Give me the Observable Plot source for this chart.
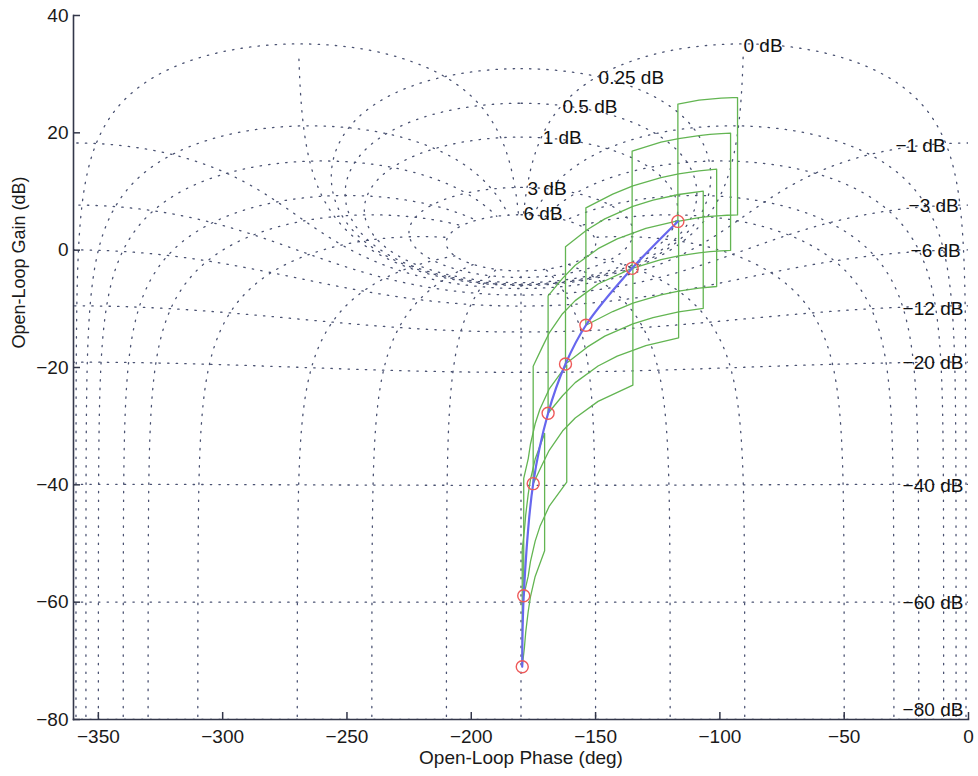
<!DOCTYPE html>
<html>
<head>
<meta charset="utf-8">
<script src="https://cdn.jsdelivr.net/npm/d3@7"></script>
<script src="https://cdn.jsdelivr.net/npm/@observablehq/plot@0.6"></script>
<style>
  html, body { margin: 0; padding: 0; background: #fff; }
  #chart svg { display: block; }
</style>
</head>
<body>
<div id="chart"></div>
<script>
// ---------- axis ticks ----------
const xTicks = [-350, -300, -250, -200, -150, -100, -50, 0];
const yTicks = [40, 20, 0, -20, -40, -60, -80];

// ---------- nominal open-loop response (phase deg, gain dB) ----------
const nomPhase = [-116.9, -135.3, -153.9, -162.1, -169.1, -175.1, -178.9, -179.5];
const nomGain  = [4.9, -3.1, -12.8, -19.4, -27.8, -39.8, -58.9, -71.0];

// ---------- plant templates: lower edge (phase, gain) of each template ----------
const templateLowerEdges = [
  [[-116.9, 4.9], [-108.4, 5.56], [-104.0, 5.76], [-99.5, 5.90], [-97.1, 5.95], [-94.8, 5.99], [-92.9, 6.01]],
  [[-135.3, -3.1], [-123.7, -1.6], [-116.6, -0.97], [-108.4, -0.46], [-104.0, -0.26], [-99.5, -0.12], [-95.7, -0.04]],
  [[-153.9, -12.8], [-143.1, -10.46], [-135.0, -9.03], [-123.7, -7.62], [-116.6, -6.99], [-108.4, -6.48], [-101.3, -6.19]],
  [[-162.1, -19.4], [-153.4, -16.53], [-146.3, -14.66], [-135.0, -12.55], [-126.9, -11.48], [-116.6, -10.51], [-106.7, -9.92]],
  [[-169.1, -27.8], [-163.3, -24.81], [-158.2, -22.58], [-149.0, -19.75], [-141.3, -18.07], [-129.8, -16.27], [-116.6, -14.95]],
  [[-175.1, -39.8], [-171.5, -36.57], [-168.7, -34.15], [-163.3, -30.83], [-158.2, -28.60], [-149.0, -25.77], [-135.0, -23.01]],
  [[-178.9, -58.9], [-177.1, -55.57], [-176.2, -53.08], [-174.3, -49.59], [-172.4, -47.12], [-168.7, -43.69], [-161.6, -39.54]],
  [[-179.5, -71.0], [-178.6, -67.61], [-178.1, -65.11], [-177.1, -61.59], [-176.2, -59.10], [-174.3, -55.61], [-170.5, -51.25]]
];
const templateGainSpanDb = 20; // gain uncertainty span of each template

// ---------- Nichols grid definition ----------
const gainLinesDb = [6, 3, 1, 0.5, 0.25, 0, -1, -3, -6, -12, -20, -40, -60, -80];
const phaseLinesDeg = [-1, -5, -10, -20, -30, -50, -90, -120, -150, -180, -210, -240, -270, -310, -330, -340, -350, -355, -359];

// ---------- grid labels ----------
const gridLabelText  = ["0 dB", "0.25 dB", "0.5 dB", "1 dB", "3 dB", "6 dB",
                        "\u22121 dB", "\u22123 dB", "\u22126 dB", "\u221212 dB", "\u221220 dB", "\u221240 dB", "\u221260 dB", "\u221280 dB"];
const gridLabelPhase = [-90.5, -148.8, -163.3, -171.3, -177.4, -179.0,
                        -29.4, -24.1, -23.3, -26.5, -26.5, -26.5, -26.5, -26.5];
const gridLabelGain  = [34.8, 29.3, 24.4, 19.1, 10.4, 6.1,
                        17.7, 7.5, -0.2, -10.05, -19.25, -40.2, -60.1, -78.4];

// ---------- build tables ----------
// open-loop G = T/(1-T) for closed-loop T = m * e^{j theta}
function nichols(m, thDeg) {
  const th = thDeg * Math.PI / 180;
  const tr = m * Math.cos(th), ti = m * Math.sin(th);
  const dr = 1 - tr, di = -ti;
  const den = dr * dr + di * di;
  const gr = (tr * dr + ti * di) / den;
  const gi = (ti * dr - tr * di) / den;
  return [Math.atan2(gi, gr) * 180 / Math.PI, 10 * Math.log10(gr * gr + gi * gi)];
}
function unwrap(pts, ref) {
  let prev = ref;
  return pts.map(([p, g]) => {
    while (p - prev > 180) p -= 360;
    while (p - prev < -180) p += 360;
    prev = p;
    return [p, g];
  });
}

const gridRows = [];
gainLinesDb.forEach((db, i) => {
  const m = Math.pow(10, db / 20);
  const start = db === 0 ? -1.3 : 0;
  const end = db === 0 ? -358.7 : -360;
  const ref = db > 0 ? -180 : (db === 0 ? -90 : 0);
  const pts = [];
  for (let t = start; t >= end - 1e-9; t -= 0.1) pts.push(nichols(m, t));
  unwrap(pts, ref).forEach(([p, g]) => gridRows.push({id: "g" + i, p, g}));
});
// iso-phase lines run over the closed-loop gain range of the gain lines
const maxClosedLoopDb = d3.max(gainLinesDb);
const sweepDb = [];
for (let d = -100; d < -2; d += 0.1) sweepDb.push(d);
for (let d = -2; d < 2; d += 0.004) sweepDb.push(d);
for (let d = 2; d <= maxClosedLoopDb + 1e-9; d += 0.05) sweepDb.push(d);
phaseLinesDeg.forEach((ph, i) => {
  const pts = sweepDb.map(d => nichols(Math.pow(10, d / 20), ph));
  unwrap(pts, ph).forEach(([p, g]) => gridRows.push({id: "p" + i, p, g}));
});

const templateRows = [];
templateLowerEdges.forEach((edge, i) => {
  const lower = edge.map(([p, g]) => ({p, g}));
  const upper = edge.slice().reverse().map(([p, g]) => ({p, g: g + templateGainSpanDb}));
  [...lower, ...upper, lower[0]].forEach(d => templateRows.push({id: i, p: d.p, g: d.g}));
});

const nominal = nomPhase.map((p, i) => ({p, g: nomGain[i]}));
const labels = gridLabelText.map((t, i) => ({t, p: gridLabelPhase[i], g: gridLabelGain[i]}));

const chart = Plot.plot({
  width: 978,
  height: 776,
  marginLeft: 73,
  marginRight: 10,
  marginTop: 15,
  marginBottom: 57,
  x: {domain: [-360, 0]},
  y: {domain: [-80, 40]},
  style: {fontFamily: "'Liberation Sans', Arial, sans-serif", fontSize: "19px", background: "#fff", color: "#1a1a1a"},
  marks: [
    Plot.line(gridRows, {x: "p", y: "g", z: "id", stroke: "#4a5272", strokeWidth: 1.3, strokeDasharray: "1.4,7.2", clip: true}),
    Plot.line(templateRows, {x: "p", y: "g", z: "id", stroke: "#63b552", strokeWidth: 1.3, clip: true}),
    Plot.line(nominal, {x: "p", y: "g", stroke: "#6767ee", strokeWidth: 2.2, curve: "catmull-rom"}),
    Plot.dot(nominal, {x: "p", y: "g", r: 6, stroke: "#ee5a5a", strokeWidth: 1.4, fill: "none"}),
    Plot.text(labels, {x: "p", y: "g", text: "t", textAnchor: "start", fontSize: 19, fill: "#111"}),
    Plot.frame({anchor: "left", stroke: "#33374a", strokeWidth: 1.6}),
    Plot.frame({anchor: "bottom", stroke: "#33374a", strokeWidth: 1.6}),
    Plot.axisX({ticks: xTicks, tickSize: -7, tickPadding: 17, label: null, stroke: "#33374a", strokeWidth: 1.5}),
    Plot.axisY({ticks: yTicks, tickSize: -7, tickPadding: 12, label: null, stroke: "#33374a", strokeWidth: 1.5}),
    Plot.text(["Open-Loop Phase (deg)"], {frameAnchor: "bottom", text: d => d, dy: 44, fontSize: 19, fill: "#1a1a1a"}),
    Plot.text(["Open-Loop Gain (dB)"], {frameAnchor: "left", text: d => d, rotate: -90, dx: -54, dy: -19, fontSize: 18, fill: "#1a1a1a"})
  ]
});
document.getElementById("chart").appendChild(chart);
</script>
</body>
</html>
